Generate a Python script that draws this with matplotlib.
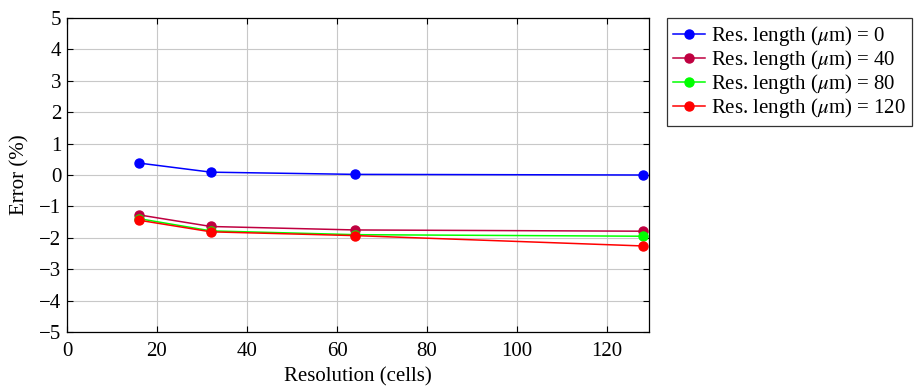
import matplotlib
matplotlib.use("Agg")
import matplotlib.pyplot as plt

plt.rcParams['font.family'] = ['Liberation Serif', 'DejaVu Serif']
plt.rcParams['mathtext.fontset'] = 'stix'

resolution = [16, 32, 64, 128]
err_0 = [0.38, 0.09, 0.02, 0.00]
err_40 = [-1.27, -1.64, -1.75, -1.79]
err_80 = [-1.39, -1.78, -1.90, -1.95]
err_120 = [-1.44, -1.81, -1.93, -2.26]
labels = [r'Res. length ($\mu$m) = 0', r'Res. length ($\mu$m) = 40',
          r'Res. length ($\mu$m) = 80', r'Res. length ($\mu$m) = 120']
colors = ['#0000ff', '#bf0040', '#00ff00', '#ff0000']

fig = plt.figure(figsize=(9.16, 3.87), dpi=100)
ax = fig.add_axes([0.0731, 0.1421, 0.6354, 0.8114])
for ys, lab, c in zip([err_0, err_40, err_80, err_120], labels, colors):
    ax.plot(resolution, ys, color=c, marker='o', markersize=6.5, linewidth=1.1, label=lab)

ax.set_xlim(0, 129.3)
ax.set_ylim(-5, 5)
ax.set_xticks(range(0, 121, 20))
ax.set_yticks(range(-5, 6))
ax.set_yticklabels([str(v).replace('-', '\u2212') for v in range(-5, 6)])
ax.grid(True, color='#c8c8c8', linewidth=0.8)
ax.set_axisbelow(True)
ax.tick_params(direction='in', top=True, right=True, labelsize=15, length=4, width=0.8, pad=4)
ax.tick_params(axis='x', pad=7)
for s in ax.spines.values():
    s.set_linewidth(0.9)
ax.set_xlabel('Resolution (cells)', fontsize=15, labelpad=5)
ax.set_ylabel('Error (%)', fontsize=15, labelpad=7)

leg = fig.legend(loc='upper left', bbox_to_anchor=(0.728, 0.9535), fontsize=15,
                 frameon=True, fancybox=False, edgecolor='black', handlelength=1.55,
                 borderpad=0.3, labelspacing=0.0, handletextpad=0.25, borderaxespad=0)
leg.get_frame().set_linewidth(0.9)

fig.savefig('out.png', dpi=100)
